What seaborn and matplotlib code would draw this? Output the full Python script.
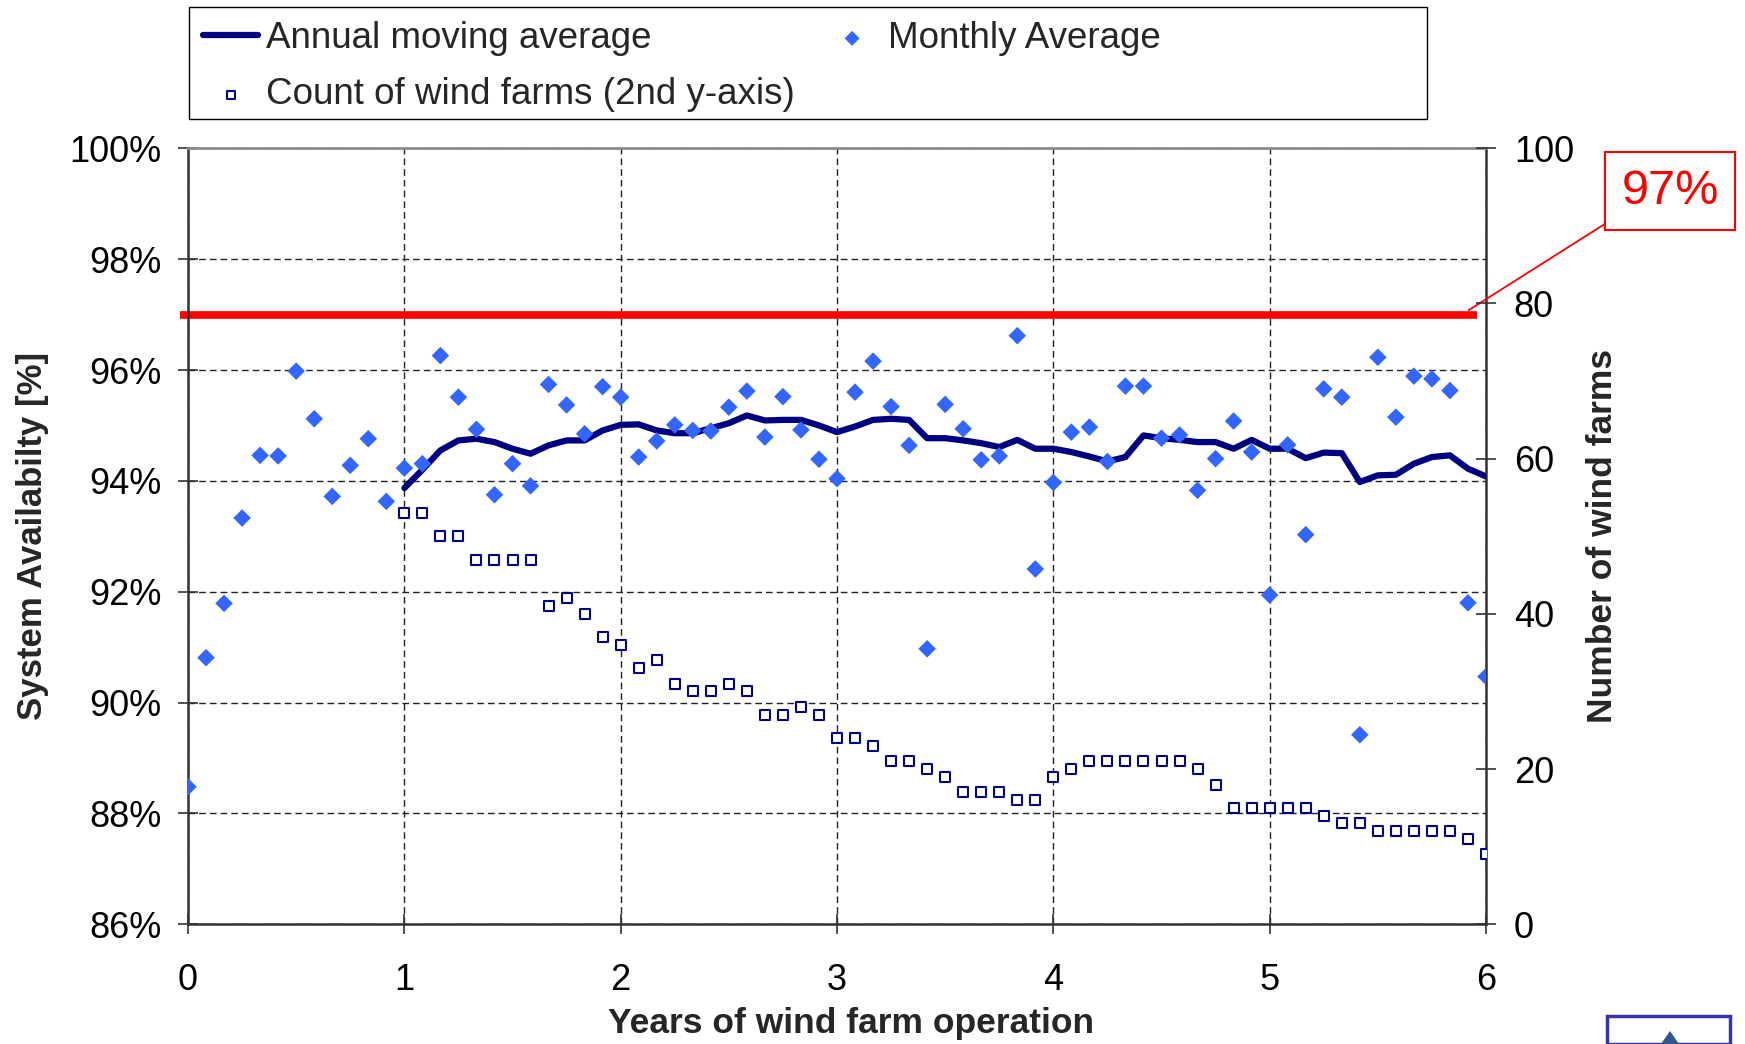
import numpy as np
import pandas as pd
import matplotlib
matplotlib.use("Agg")
import matplotlib.pyplot as plt
import seaborn as sns
from matplotlib.patches import Rectangle, Polygon

# ---------------- data ----------------
months_all = list(range(0, 73))          # month index of monthly averages
monthly_avg = [88.48, 90.81, 91.79, 93.33, 94.46, 94.45, 95.98, 95.12, 93.72, 94.28, 94.76, 93.63,
               94.23, 94.31, 96.26, 95.51, 94.93, 93.75, 94.31, 93.91, 95.74, 95.37, 94.85, 95.70,
               95.51, 94.43, 94.72, 95.01, 94.91, 94.90, 95.33, 95.62, 94.79, 95.52, 94.92, 94.39,
               94.04, 95.60, 96.16, 95.34, 94.64, 90.97, 95.38, 94.94, 94.38, 94.45, 96.62, 92.41,
               93.97, 94.88, 94.97, 94.35, 95.71, 95.71, 94.77, 94.83, 93.83, 94.40, 95.08, 94.52,
               91.94, 94.65, 93.03, 95.66, 95.51, 89.42, 96.23, 95.15, 95.89, 95.84, 95.63, 91.80,
               90.47]

months_ma = list(range(12, 73))          # month index of moving average / farm counts
moving_avg = [93.87, 94.20, 94.55, 94.73, 94.76, 94.70, 94.58, 94.49, 94.64, 94.73, 94.73, 94.91,
              95.01, 95.02, 94.91, 94.86, 94.86, 94.95, 95.04, 95.18, 95.09, 95.10, 95.10, 95.00,
              94.88, 94.98, 95.10, 95.12, 95.10, 94.77, 94.77, 94.73, 94.68, 94.61, 94.74, 94.58,
              94.58, 94.52, 94.44, 94.35, 94.43, 94.82, 94.77, 94.74, 94.70, 94.70, 94.58, 94.74,
              94.58, 94.58, 94.41, 94.51, 94.50, 93.98, 94.10, 94.11, 94.31, 94.43, 94.46, 94.22,
              94.08]
farm_count = [53, 53, 50, 50, 47, 47, 47, 47, 41, 42, 40, 37,
              36, 33, 34, 31, 30, 30, 31, 30, 27, 27, 28, 27,
              24, 24, 23, 21, 21, 20, 19, 17, 17, 17, 16, 16,
              19, 20, 21, 21, 21, 21, 21, 21, 20, 18, 15, 15,
              15, 15, 15, 14, 13, 13, 12, 12, 12, 12, 12, 11, 9]

target_value = 97.0
target_years = [-0.035, 5.96]
target_label = "97%"

x_ticks = [0, 1, 2, 3, 4, 5, 6]
left_ticks = [86, 88, 90, 92, 94, 96, 98, 100]
right_ticks = [0, 20, 40, 60, 80, 100]

label_ma = "Annual moving average"
label_monthly = "Monthly Average"
label_count = "Count of wind farms (2nd y-axis)"
xlabel = "Years of wind farm operation"
ylabel_left = "System Availabilty [%]"
ylabel_right = "Number of wind farms"

# ---------------- frames ----------------
df_monthly = pd.DataFrame({"years": np.array(months_all) / 12.0, "avail": monthly_avg})
df_ma = pd.DataFrame({"years": np.array(months_ma) / 12.0, "avail": moving_avg})
df_count = pd.DataFrame({"years": np.array(months_ma) / 12.0, "count": farm_count})

# ---------------- style ----------------
sns.set_style("white")
plt.rcParams["font.family"] = ["Liberation Sans", "DejaVu Sans"]

W, H = 1745, 1044
fig = plt.figure(figsize=(W / 100, H / 100), dpi=100)
fig.patch.set_facecolor("white")
ax = fig.add_axes([188 / W, 1 - 924.3 / H, 1298 / W, 776 / H])

navy = "#000080"
blue = "#3366FF"

sns.lineplot(data=df_ma, x="years", y="avail", color=navy, linewidth=4.5,
             ax=ax, zorder=3, label=label_ma, legend=False)
sns.scatterplot(data=df_monthly, x="years", y="avail", marker="D", s=80,
                color=blue, edgecolor="none", linewidth=0, ax=ax, zorder=4,
                label=label_monthly, legend=False)
ax.plot(target_years, [target_value] * 2, color="red", linewidth=5.5,
        solid_capstyle="butt", clip_on=False, zorder=2.5)

ax.set_xlim(0, 6)
ax.set_ylim(86, 100)
ax.set_xticks(x_ticks)
ax.set_yticks(left_ticks)
ax.set_yticklabels([f"{v}%" for v in left_ticks])
ax.grid(True, axis="both", linestyle=(0, (4.8, 2.9)), color="#222222", linewidth=1.0)
ax.set_axisbelow(True)

ax.tick_params(axis="y", direction="inout", length=14, width=1.2, labelsize=26, pad=12,
               left=True, colors="#333333", labelcolor="black")
ax.tick_params(axis="x", direction="inout", length=14, width=1.2, labelsize=26, pad=21,
               bottom=True, colors="#333333", labelcolor="black")

for side in ["left", "right", "bottom"]:
    ax.spines[side].set_color("#333333")
    ax.spines[side].set_linewidth(1.8)
ax.spines["top"].set_color("#8c8c8c")
ax.spines["top"].set_linewidth(2.0)

ax.set_xlabel(xlabel, fontsize=25.5, fontweight="bold")
ax.set_ylabel(ylabel_left, fontsize=25, fontweight="bold")
ax.xaxis.set_label_coords(0.511, -0.106)
ax.yaxis.set_label_coords(-0.107, 0.5)

# second axis
ax2 = ax.twinx()
sns.scatterplot(data=df_count, x="years", y="count", marker="s", s=42,
                color="white", edgecolor=navy, linewidth=1.5, ax=ax2, zorder=5,
                label=label_count, legend=False)
ax2.set_ylim(0, 100)
ax2.set_yticks(right_ticks)
ax2.tick_params(axis="y", direction="inout", length=14, width=1.2, labelsize=26, pad=13,
                right=True, colors="#333333", labelcolor="black")
ax2.set_ylabel(ylabel_right, fontsize=25.5, fontweight="bold")
ax2.yaxis.set_label_coords(1.077, 0.5)
for s in ax2.spines.values():
    s.set_visible(False)
ax2.grid(False)

# annotation for target
ax.annotate(target_label, xy=(5.92, 97.08), xycoords="data",
            xytext=(1670 / W, 1 - 191 / H), textcoords="figure fraction",
            ha="center", va="center", fontsize=35, color="red",
            bbox=dict(boxstyle="square,pad=0.33", fc="white", ec="red", lw=1.5),
            arrowprops=dict(arrowstyle="-", color="red", lw=1.3, relpos=(0, 0),
                            shrinkA=0, shrinkB=0),
            annotation_clip=False, zorder=6)

# legend
h1, l1 = ax.get_legend_handles_labels()
h2, l2 = ax2.get_legend_handles_labels()
hd = dict(zip(l1 + l2, h1 + h2))
order = [label_ma, label_count, label_monthly]
fig.patches.append(Rectangle((189 / W, 1 - 119 / H), (1427 - 189) / W, 112 / H,
                             transform=fig.transFigure, fill=True, fc="white",
                             ec="black", lw=1.0, zorder=0))
fig.legend([hd[k] for k in order], order, loc="upper left",
           bbox_to_anchor=(203 / W, 1 - 21 / H), ncol=2, frameon=False,
           fontsize=26.5, handlelength=1.5, handletextpad=0.22, columnspacing=0.8,
           borderpad=0, labelspacing=0.58, borderaxespad=0, markerscale=0.85)

# partially visible logo in the bottom-right corner
fig.patches.append(Rectangle((1607 / W, 0 / H), 123 / W, 28 / H, transform=fig.transFigure,
                             fc="white", ec="#3535A8", lw=2.5, clip_on=False))
fig.patches.append(Polygon([(1670 / W, 13 / H), (1661 / W, 0), (1679 / W, 0)],
                           closed=True, transform=fig.transFigure, fc="#34568B", ec="none"))

fig.savefig("out.png", dpi=100, facecolor="white")
